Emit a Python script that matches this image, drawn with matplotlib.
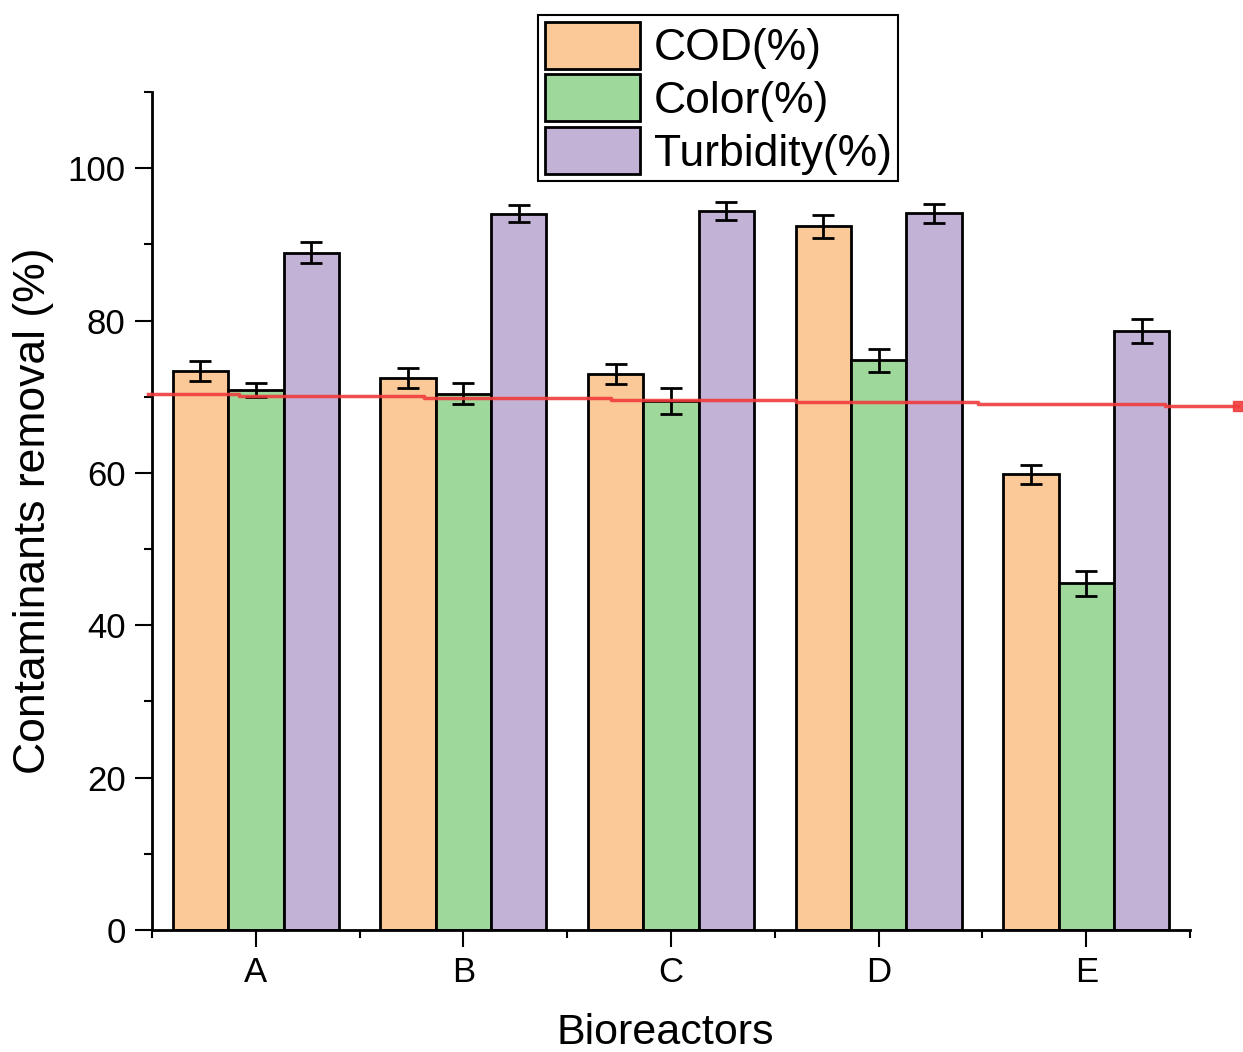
import matplotlib
matplotlib.use('Agg')
import matplotlib.pyplot as plt
import numpy as np

plt.rcParams['font.family'] = ['Liberation Sans', 'DejaVu Sans']

# removal efficiencies per bioreactor
reactors = ['A', 'B', 'C', 'D', 'E']
cod = [73.4, 72.5, 73.0, 92.4, 59.8]
cod_err = [1.3, 1.3, 1.35, 1.5, 1.3]
color = [70.9, 70.4, 69.4, 74.8, 45.5]
color_err = [0.95, 1.4, 1.7, 1.5, 1.65]
turb = [88.9, 94.05, 94.4, 94.1, 78.6]
turb_err = [1.4, 1.1, 1.2, 1.25, 1.55]

# red reference line (stepped), x in category units
ref_x = [-0.52, -0.08, 0.81, 1.71, 2.60, 3.48, 4.38, 4.73]
ref_y = [70.4, 70.1, 69.8, 69.55, 69.25, 69.0, 68.75, 68.75]

fig = plt.figure(figsize=(12.43, 10.52), dpi=100)
ax = fig.add_axes([0.1223, 0.1160, 0.8351, 0.7965])

x = np.arange(len(reactors))
w = 0.8 / 3
bar_kw = dict(edgecolor='black', linewidth=2, zorder=2)
err_kw = dict(ecolor='black', elinewidth=2, capsize=8, capthick=2)
ax.bar(x - w, cod, w, yerr=cod_err, color='#FBC898', label='COD(%)', error_kw=err_kw, **bar_kw)
ax.bar(x, color, w, yerr=color_err, color='#9ED89B', label='Color(%)', error_kw=err_kw, **bar_kw)
ax.bar(x + w, turb, w, yerr=turb_err, color='#C2B2D6', label='Turbidity(%)', error_kw=err_kw, **bar_kw)

ax.plot(ref_x, ref_y, drawstyle='steps-post', color='#F03C3C', lw=2.5, alpha=0.9,
        marker='s', markersize=7, markevery=[len(ref_x) - 1], clip_on=False, zorder=5)

ax.set_xlim(-0.5, 4.5)
ax.set_ylim(0, 110)
ax.set_xticks(x)
ax.set_xticklabels(reactors)
ax.set_xticks(np.arange(-0.5, 5.0, 1.0), minor=True)
ax.set_yticks(np.arange(0, 101, 20))
ax.set_yticks(np.arange(10, 111, 20), minor=True)

for s in ['top', 'right']:
    ax.spines[s].set_visible(False)
for s in ['left', 'bottom']:
    ax.spines[s].set_linewidth(2)
ax.tick_params(which='major', length=12, width=1.5, labelsize=25, pad=7, direction='out')
ax.tick_params(which='minor', length=6, width=1.5, direction='out')

ax.set_ylabel('Contaminants removal (%)', fontsize=32)
ax.set_xlabel('Bioreactors', fontsize=31)
ax.yaxis.set_label_coords(-0.094, 0.5)
ax.xaxis.set_label_coords(0.494, -0.099)

leg = ax.legend(loc='upper left', bbox_to_anchor=(538 / 1243, 1 - 15 / 1052),
                bbox_transform=fig.transFigure, fontsize=32, fancybox=False,
                edgecolor='black', framealpha=1, handlelength=2.15, handleheight=1.25,
                labelspacing=0.12, borderpad=0.15, handletextpad=0.3, borderaxespad=0)
leg.get_frame().set_linewidth(1.5)
for p in leg.get_patches():
    p.set_linewidth(2)

fig.savefig('out.png', dpi=100)
